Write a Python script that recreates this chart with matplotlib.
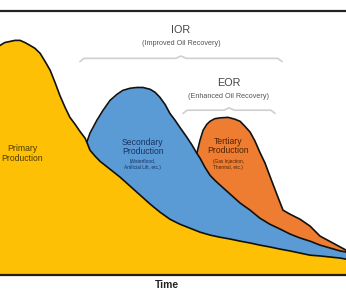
import matplotlib.pyplot as plt

# Production profiles (time 0-100, rate 0-100).
# Each series is the top edge of its stacked band.
primary_t = [0, 1.4, 2.9, 4.3, 5.8, 7.2, 8.7, 10.1, 11.6, 13.0, 14.5, 15.9, 17.3, 18.8,
             20.2, 21.7, 23.1, 24.6, 25.1, 26.0, 27.5, 28.9, 31.8, 34.7, 37.6, 40.5,
             43.4, 46.2, 49.1, 52.0, 54.9, 57.8, 60.7, 63.5, 66.5, 69.4, 72.3, 75.1,
             78.0, 80.9, 83.8, 86.7, 89.6, 92.5, 95.4, 98.3, 100]
primary_rate = [86.8, 87.9, 88.3, 88.7, 88.7, 87.9, 86.8, 85.7, 83.8, 80.8, 77.4, 72.8,
                67.9, 63.4, 59.6, 57.0, 54.3, 51.7, 50.2, 47.2, 44.9, 43.0, 40.0, 37.0,
                33.6, 30.2, 26.8, 23.8, 21.1, 19.2, 17.7, 16.2, 15.1, 14.3, 13.6, 12.8,
                12.1, 11.3, 10.6, 9.8, 9.1, 8.3, 7.5, 7.2, 6.8, 6.4, 6.0]

secondary_t = [25.1, 26.0, 26.9, 28.0, 29.8, 31.8, 33.8, 35.5, 37.6, 39.6, 41.3, 43.4,
               44.8, 46.2, 47.7, 49.1, 50.6, 52.0, 54.0, 55.5, 56.9, 57.8, 59.2, 60.7,
               62.1, 63.6, 66.5, 69.4, 72.3, 75.1, 78.0, 80.9, 83.8, 86.7, 89.6, 92.5,
               95.4, 98.3, 100]
secondary_rate = [50.2, 53.6, 55.8, 58.5, 62.3, 66.0, 68.3, 69.8, 70.6, 70.9, 70.9, 70.2,
                  69.1, 67.2, 64.5, 61.1, 58.5, 55.8, 52.1, 49.1, 46.0, 44.2, 40.8, 37.7,
                  35.8, 34.0, 30.6, 27.2, 24.5, 21.5, 19.2, 17.4, 15.5, 14.0, 12.8, 11.3,
                  10.2, 9.1, 8.7]

tertiary_t = [56.9, 57.8, 58.7, 59.8, 60.7, 62.1, 63.6, 65.9, 67.9, 69.4, 70.8, 72.3,
              73.7, 75.1, 76.6, 78.0, 80.1, 81.8, 83.8, 86.7, 89.6, 92.5, 96.2, 100]
tertiary_rate = [46.0, 50.9, 54.7, 57.0, 58.1, 59.1, 59.4, 59.6, 58.9, 58.1, 56.2, 54.0,
                 50.6, 46.4, 42.3, 37.4, 30.2, 24.5, 23.0, 21.1, 18.5, 14.7, 12.1, 9.4]

yellow = "#FDC004"
blue = "#5B9BD5"
orange = "#EE7D31"
edge = "#111111"

plt.rcParams["font.family"] = ["Liberation Sans", "DejaVu Sans"]

fig = plt.figure(figsize=(3.46, 3.0), dpi=100)
ax = fig.add_axes([0, 25 / 300, 1, 264.5 / 300])

# Tertiary band (drawn first, covered by the lower bands)
ax.fill_between(tertiary_t, tertiary_rate, 0, color=orange, lw=0, zorder=1)
ax.plot(tertiary_t, tertiary_rate, color=edge, lw=1.2, zorder=2, solid_joinstyle="round")
# Secondary band
ax.fill_between(secondary_t, secondary_rate, 0, color=blue, lw=0, zorder=3)
ax.plot(secondary_t, secondary_rate, color=edge, lw=1.2, zorder=4, solid_joinstyle="round")
# Primary band
ax.fill_between(primary_t, primary_rate, 0, color=yellow, lw=0, zorder=5)
ax.plot(primary_t, primary_rate, color=edge, lw=1.2, zorder=6, solid_joinstyle="round")

ax.set_xlim(0, 100)
ax.set_ylim(0, 100)
ax.set_xticks([])
ax.set_yticks([])
for side in ["left", "right"]:
    ax.spines[side].set_visible(False)
ax.spines["top"].set_linewidth(1.6)
ax.spines["top"].set_color("#222222")
ax.spines["bottom"].set_linewidth(1.6)
ax.spines["bottom"].set_color("#2a1d05")
ax.spines["bottom"].set_zorder(10)

# Band labels
ax.text(6.4, 46, "Primary\nProduction", ha="center", va="center", fontsize=6.2,
        color="#4f3c00", linespacing=1.05, zorder=8)
ax.text(41.3, 48.5, "Secondary\nProduction", ha="center", va="center", fontsize=6.2,
        color="#17325f", linespacing=1.05, zorder=8)
ax.text(41.3, 41.7, "(Waterflood,\nArtificial Lift, etc.)", ha="center", va="center",
        fontsize=3.4, color="#17325f", linespacing=1.2, zorder=8)
ax.text(65.9, 48.7, "Tertiary\nProduction", ha="center", va="center", fontsize=6.2,
        color="#4f2204", linespacing=1.05, zorder=8)
ax.text(65.9, 41.7, "(Gas Injection,\nThermal, etc.)", ha="center", va="center",
        fontsize=3.4, color="#4f2204", linespacing=1.2, zorder=8)


def brace(x0, x1, y, xc):
    # light bracket with turned-down ends and a small centre notch
    ax.plot([x0, x0 + 1.2, xc - 1.5, xc, xc + 1.5, x1 - 1.2, x1],
            [y - 1.2, y, y, y + 0.9, y, y, y - 1.2],
            color="#cfcfcf", lw=1.2, solid_capstyle="round", zorder=7)


ax.text(52.3, 92.5, "IOR", ha="center", va="center", fontsize=7.8, color="#444444")
ax.text(52.3, 87.6, "(Improved Oil Recovery)", ha="center", va="center", fontsize=5.2,
        color="#555555")
brace(23.1, 81.5, 81.9, 52.3)

ax.text(66.0, 72.5, "EOR", ha="center", va="center", fontsize=7.8, color="#444444")
ax.text(66.0, 67.6, "(Enhanced Oil Recovery)", ha="center", va="center", fontsize=5.2,
        color="#555555")
brace(52.9, 79.5, 62.3, 66.2)

fig.text(167 / 346, 1 - 285 / 300, "Time", ha="center", va="center", fontsize=7.4,
         fontweight="bold", color="#222222")

fig.savefig("out.png", dpi=100)
